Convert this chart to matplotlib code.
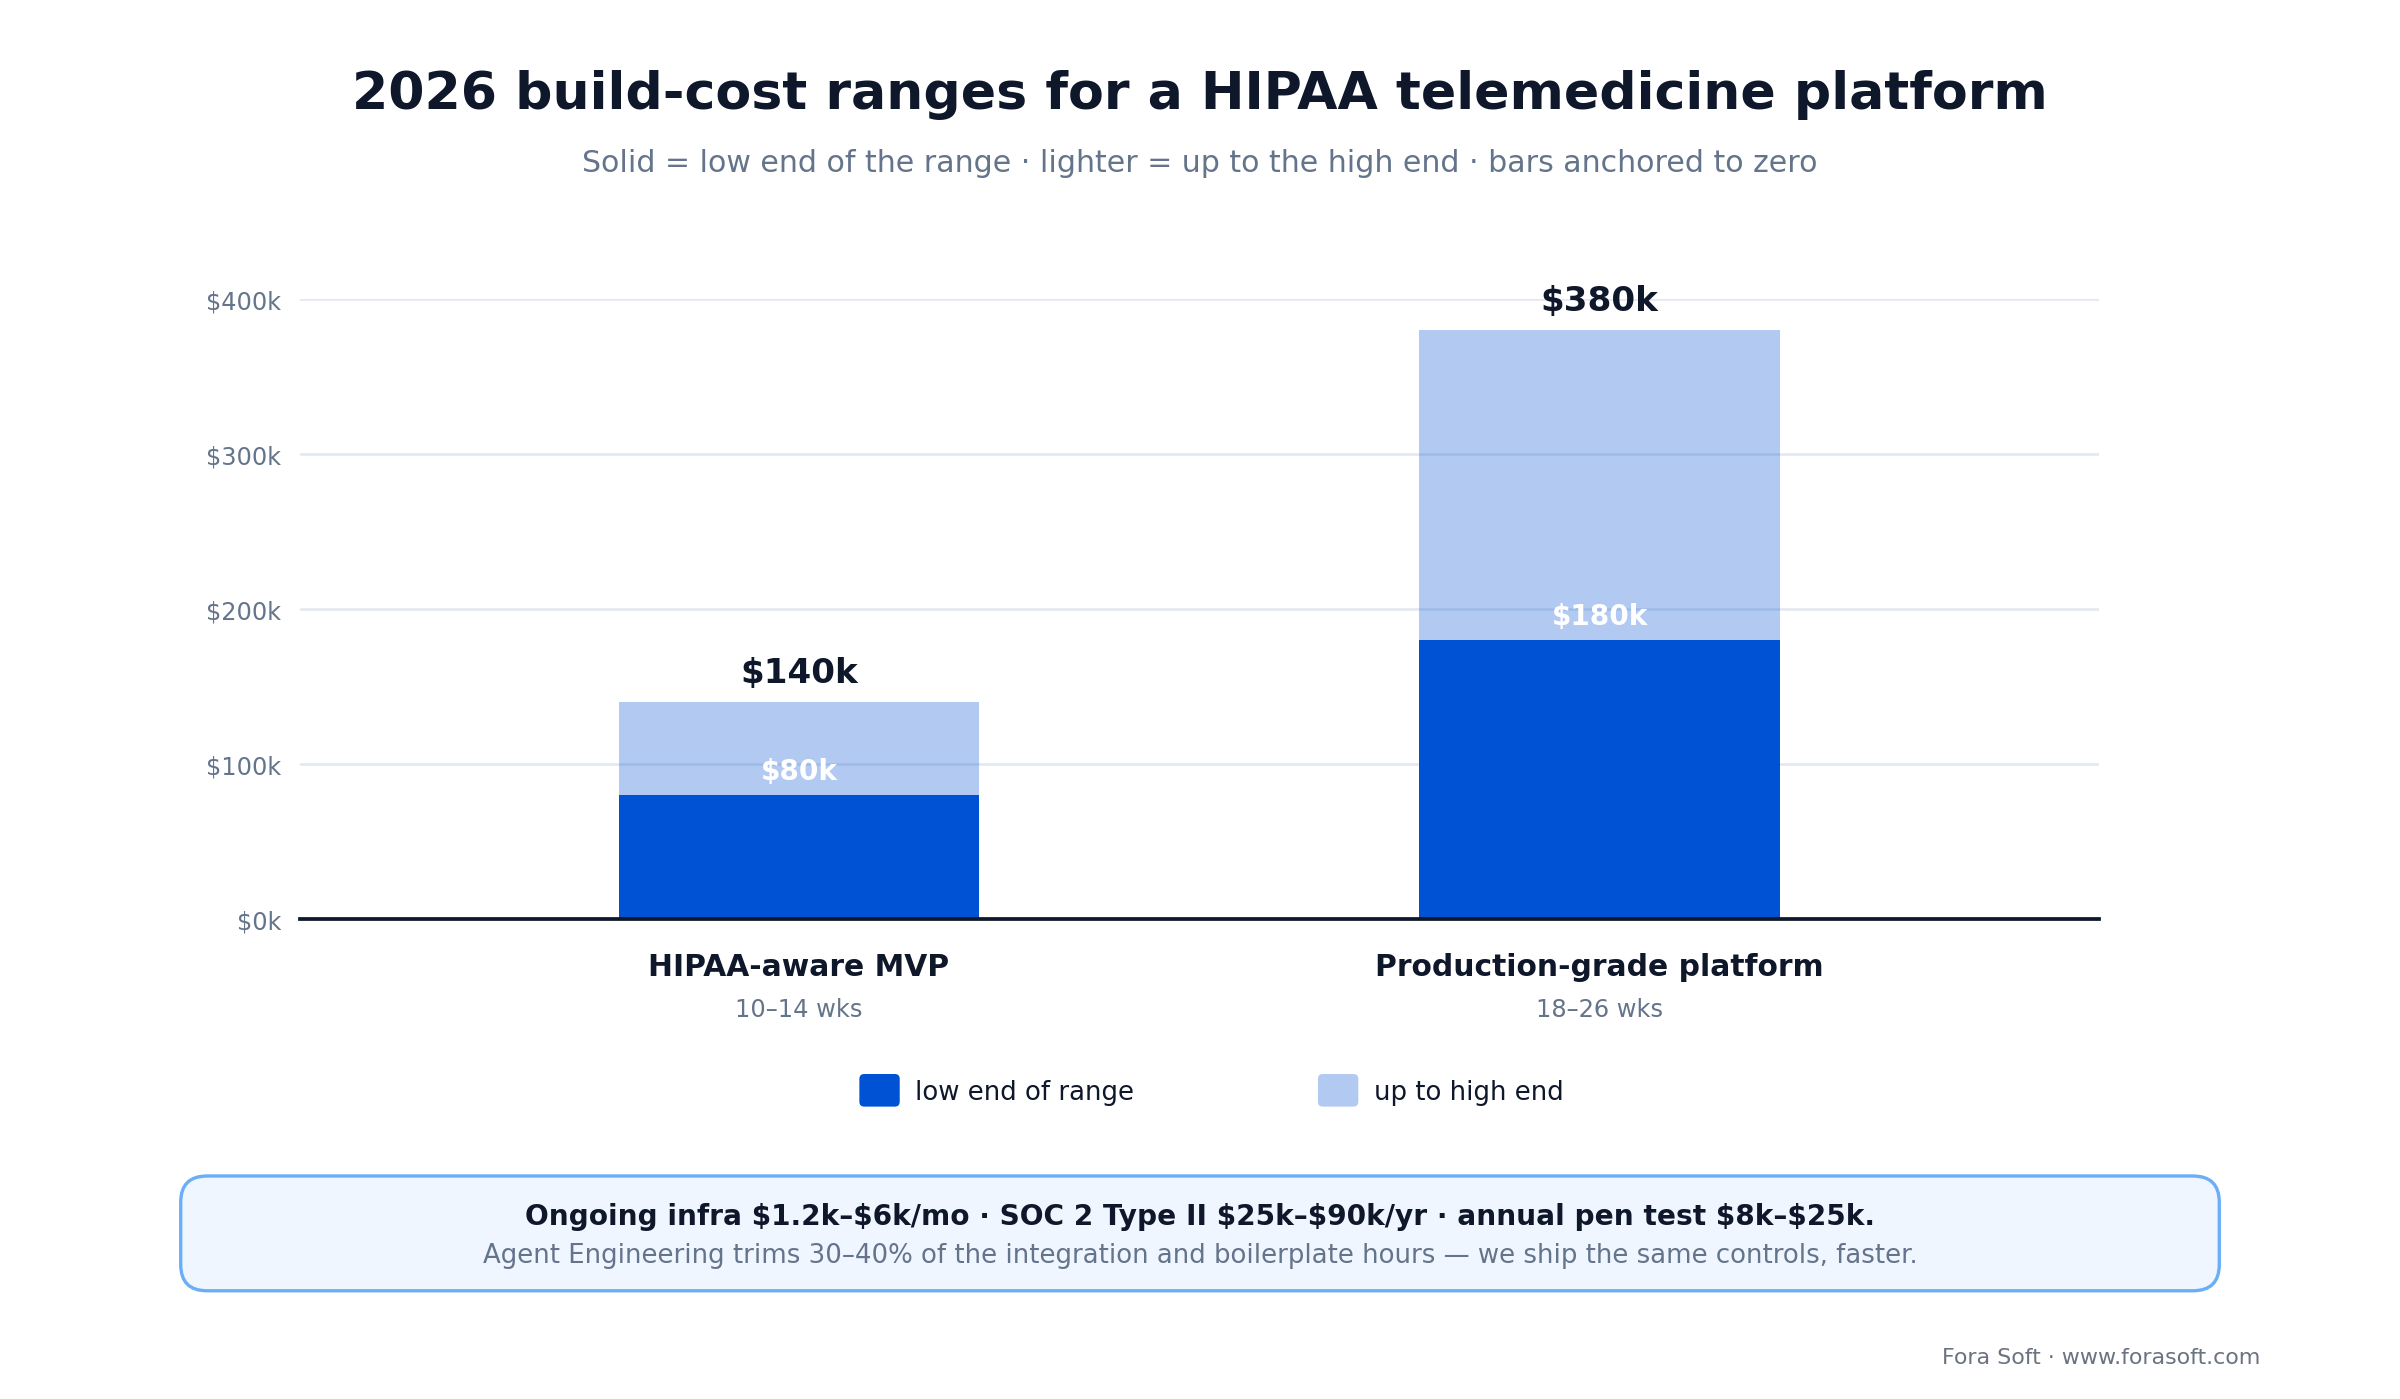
import matplotlib.pyplot as plt
from matplotlib.patches import FancyBboxPatch, Patch
from matplotlib.legend_handler import HandlerPatch

plt.rcParams['text.parse_math'] = False

# data
categories = ['HIPAA-aware MVP', 'Production-grade platform']
durations = ['10–14 wks', '18–26 wks']
low_end = [80, 180]      # $k
high_end = [140, 380]    # $k
yticks = [0, 100, 200, 300, 400]

DARK = '#0052D4'
INK = '#0F172A'
GREY = '#64748B'
GRID = '#E2E8F0'

fig = plt.figure(figsize=(16, 9.333), dpi=150)
ax = fig.add_axes([0.125, 0.343, 0.7494, 0.4427])

x = range(len(categories))
# lighter part: low end up to high end (drawn from zero, translucent)
ax.bar(x, high_end, width=0.45, color=DARK, alpha=0.3, zorder=2)
ax.bar(x, low_end, width=0.45, color=DARK, zorder=3)

for i in x:
    ax.annotate(f'${high_end[i]}k', (i, high_end[i]), xytext=(0, 14), textcoords='offset points',
                ha='center', va='center', fontsize=16.4, fontweight='bold', color=INK)
    ax.annotate(f'${low_end[i]}k', (i, low_end[i]), xytext=(0, 11.5), textcoords='offset points',
                ha='center', va='center', fontsize=13.4, fontweight='bold', color='white', zorder=5)

ax.set_xlim(-0.623, 1.623)
ax.set_ylim(0, 400)
ax.set_yticks(yticks)
ax.set_yticklabels([f'${v}k' for v in yticks], color=GREY, fontsize=11.5)
ax.tick_params(axis='y', length=0, pad=9)
ax.tick_params(axis='x', length=0)
ax.set_xticks([])
ax.grid(axis='y', color=GRID, linewidth=1.2, zorder=0)
ax.set_axisbelow(True)
for s in ['top', 'right', 'left']:
    ax.spines[s].set_visible(False)
ax.spines['bottom'].set_color(INK)
ax.spines['bottom'].set_linewidth(1.8)
ax.spines['bottom'].set_zorder(6)

for i in x:
    ax.annotate(categories[i], (i, 0), xytext=(0, -23), textcoords='offset points',
                ha='center', va='center', fontsize=14.3, fontweight='bold', color=INK)
    ax.annotate(durations[i], (i, 0), xytext=(0, -43.5), textcoords='offset points',
                ha='center', va='center', fontsize=11.6, color=GREY)

fig.text(0.5, 0.932, '2026 build-cost ranges for a HIPAA telemedicine platform',
         ha='center', va='center', fontsize=25, fontweight='bold', color=INK)
fig.text(0.5, 0.8835, 'Solid = low end of the range · lighter = up to the high end · bars anchored to zero',
         ha='center', va='center', fontsize=14.4, color=GREY)


class RoundHandler(HandlerPatch):
    def create_artists(self, legend, orig_handle, xdescent, ydescent, width, height, fontsize, trans):
        p = FancyBboxPatch((-xdescent, -ydescent), width, height,
                           boxstyle='round,pad=0,rounding_size=%f' % (height * 0.15),
                           facecolor=orig_handle.get_facecolor(), edgecolor='none',
                           transform=trans)
        return [p]


handles = [Patch(facecolor=DARK, label='low end of range'),
           Patch(facecolor=DARK, alpha=0.3, label='up to high end')]
leg = fig.legend(handles=handles, loc='center', bbox_to_anchor=(0.5048, 0.2205), ncol=2, frameon=False,
                 fontsize=12.5, handlelength=1.55, handleheight=1.55, columnspacing=7.05,
                 handletextpad=0.6, handler_map={Patch: RoundHandler()})
for t in leg.get_texts():
    t.set_color(INK)

box = FancyBboxPatch((0.0753, 0.0773), 0.8494, 0.082, transform=fig.transFigure,
                     boxstyle='round,pad=0,rounding_size=0.011', facecolor='#EFF6FF',
                     edgecolor='#6AAEF8', linewidth=1.6, mutation_aspect=1.7)
fig.patches.append(box)
fig.text(0.5, 0.131, 'Ongoing infra $1.2k–$6k/mo · SOC 2 Type II $25k–$90k/yr · annual pen test $8k–$25k.',
         ha='center', va='center', fontsize=13.45, fontweight='bold', color=INK)
fig.text(0.5, 0.1025, 'Agent Engineering trims 30–40% of the integration and boilerplate hours — we ship the same controls, faster.',
         ha='center', va='center', fontsize=12.5, color=GREY)
fig.text(0.942, 0.0303, 'Fora Soft · www.forasoft.com', ha='right', va='center', fontsize=10.6, color='#6B7280')

fig.savefig('out.png', dpi=150, facecolor='white')
